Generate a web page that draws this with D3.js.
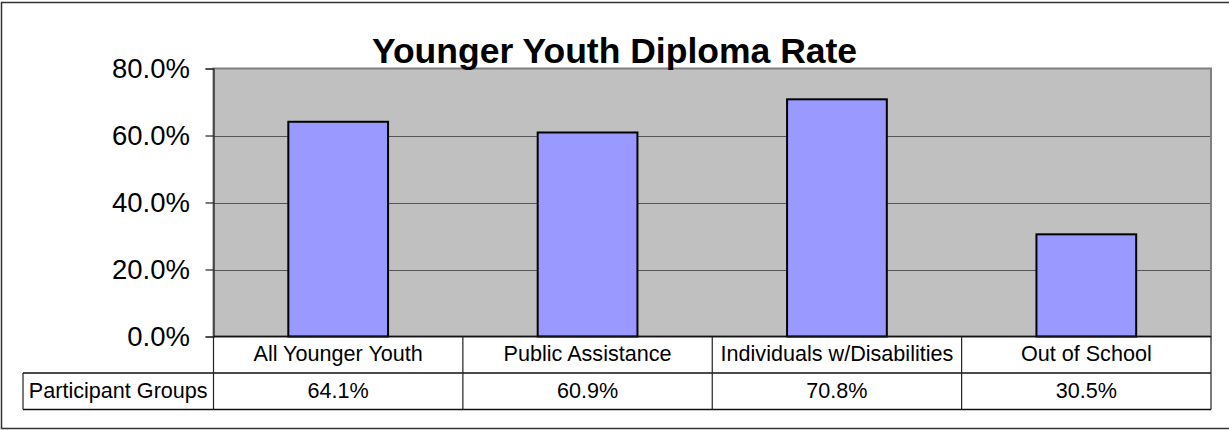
<!DOCTYPE html>
<html>
<head>
<meta charset="utf-8">
<script src="https://cdn.jsdelivr.net/npm/d3@7"></script>
<style>
  html, body { margin: 0; padding: 0; background: #ffffff; }
  svg { display: block; font-family: Arial, "Liberation Sans", sans-serif; }
</style>
</head>
<body>
<svg id="chart" width="1229" height="430"></svg>
<script>
// Chart data
const categories = ["All Younger Youth", "Public Assistance", "Individuals w/Disabilities", "Out of School"];
const rates = [0.641, 0.609, 0.708, 0.305];
const yTicks = [0, 0.2, 0.4, 0.6, 0.8];
const seriesName = "Participant Groups";
const title = "Younger Youth Diploma Rate";

const svg = d3.select("#chart");
const W = 1229, H = 430;

// Plot area box
const plot = { left: 213.5, right: 1211, top: 68.5, bottom: 336.5 };
const rowH = 36.5;

const x = d3.scaleBand()
  .domain(categories)
  .range([plot.left, plot.right])
  .paddingInner(0.6)
  .paddingOuter(0.3);

const y = d3.scaleLinear()
  .domain([0, 0.8])
  .range([plot.bottom, plot.top]);

const step = x.step();
const colStart = i => plot.left + i * step;

// Outer chart frame (right side runs past the page edge)
svg.append("rect")
  .attr("x", 1.5).attr("y", 2.5)
  .attr("width", W + 10).attr("height", 426)
  .attr("fill", "none").attr("stroke", "#333").attr("stroke-width", 1.5);

// Plot background
svg.append("rect")
  .attr("x", plot.left).attr("y", plot.top)
  .attr("width", plot.right - plot.left).attr("height", plot.bottom - plot.top)
  .attr("fill", "#C0C0C0");

// Gridlines
svg.append("g")
  .selectAll("line")
  .data(yTicks.filter(t => t > 0 && t < 0.8))
  .join("line")
  .attr("x1", plot.left).attr("x2", plot.right)
  .attr("y1", d => Math.round(y(d)) + 0.5).attr("y2", d => Math.round(y(d)) + 0.5)
  .attr("stroke", "#555").attr("stroke-width", 1);

// Plot border
svg.append("rect")
  .attr("x", plot.left).attr("y", plot.top)
  .attr("width", plot.right - plot.left).attr("height", plot.bottom - plot.top)
  .attr("fill", "none").attr("stroke", "#808080").attr("stroke-width", 2);

// Bars
svg.append("g")
  .selectAll("rect")
  .data(categories.map((c, i) => ({ c, v: rates[i] })))
  .join("rect")
  .attr("x", d => x(d.c))
  .attr("y", d => y(d.v))
  .attr("width", x.bandwidth())
  .attr("height", d => y(0) - y(d.v))
  .attr("fill", "#9999FF")
  .attr("stroke", "#000").attr("stroke-width", 2);

// Y axis
const yAxis = d3.axisLeft(y)
  .tickValues(yTicks)
  .tickFormat(d3.format(".1%"))
  .tickSize(8)
  .tickPadding(15.5);

const gy = svg.append("g")
  .attr("transform", `translate(${plot.left},0)`)
  .call(yAxis);
gy.select(".domain").attr("stroke", "#222").attr("stroke-width", 1.2);
gy.selectAll(".tick line").attr("stroke", "#222").attr("stroke-width", 1.2);
gy.selectAll(".tick text")
  .attr("fill", "#000")
  .style("font-size", "27.5px")
  .style("font-family", "Arial, 'Liberation Sans', sans-serif");

// Data table beneath the plot
const table = svg.append("g");
const tLeft = 23;
const row1 = plot.bottom, row2 = plot.bottom + rowH, row3 = plot.bottom + 2 * rowH;

// horizontal rules
[[plot.left, row1], [tLeft, row2], [tLeft, row3]].forEach(([x0, yy]) => {
  table.append("line")
    .attr("x1", x0).attr("x2", plot.right)
    .attr("y1", yy).attr("y2", yy)
    .attr("stroke", "#111").attr("stroke-width", 1.5);
});
// vertical rules
d3.range(categories.length + 1).forEach(i => {
  table.append("line")
    .attr("x1", colStart(i)).attr("x2", colStart(i))
    .attr("y1", row1).attr("y2", row3)
    .attr("stroke", "#222").attr("stroke-width", 1.2);
});
table.append("line")
  .attr("x1", tLeft).attr("x2", tLeft)
  .attr("y1", row2).attr("y2", row3)
  .attr("stroke", "#222").attr("stroke-width", 1.2);

// category names
table.selectAll("text.cat")
  .data(categories)
  .join("text")
  .attr("class", "cat")
  .attr("x", d => x(d) + x.bandwidth() / 2)
  .attr("y", row1 + 24.5)
  .attr("text-anchor", "middle")
  .style("font-size", "21.6px")
  .text(d => d);

// values
const pct = d3.format(".1%");
table.selectAll("text.val")
  .data(rates)
  .join("text")
  .attr("class", "val")
  .attr("x", (d, i) => x(categories[i]) + x.bandwidth() / 2)
  .attr("y", row2 + 24.5)
  .attr("text-anchor", "middle")
  .style("font-size", "21.6px")
  .text(d => pct(d));

// series name cell
table.append("text")
  .attr("x", (tLeft + plot.left) / 2)
  .attr("y", row2 + 24.5)
  .attr("text-anchor", "middle")
  .style("font-size", "21.6px")
  .text(seriesName);

// Title
svg.append("text")
  .attr("x", 614.5)
  .attr("y", 63)
  .attr("text-anchor", "middle")
  .style("font-size", "35.5px")
  .style("font-weight", "bold")
  .text(title);
</script>
</body>
</html>
